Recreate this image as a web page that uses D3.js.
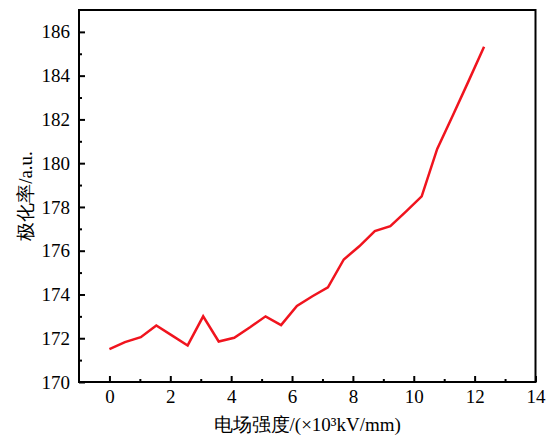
<!DOCTYPE html>
<html><head><meta charset="utf-8">
<script src="https://cdn.jsdelivr.net/npm/d3@7"></script>
<style>body{margin:0;background:#fff;} svg{display:block;} text{font-family:"Liberation Serif","Times New Roman","DejaVu Serif",serif;}</style>
</head><body>
<script>
const fieldX = [0,0.51,1.03,1.54,2.05,2.57,3.08,3.59,4.1,4.62,5.13,5.64,6.16,6.67,7.18,7.7,8.21,8.72,9.23,9.75,10.26,10.77,11.29,11.8,12.31];
const polarY = [171.5,171.82,172.05,172.58,172.13,171.67,173.0,171.85,172.02,172.5,173.0,172.6,173.48,173.92,174.33,175.6,176.2,176.9,177.12,177.8,178.48,180.65,182.2,183.75,185.32];
const xTicks = [0,2,4,6,8,10,12,14];
const yTicks = [170,172,174,176,178,180,182,184,186];
const xTitle = "电场强度/(×10³kV/mm)";
const yTitle = "极化率/a.u.";

const W = 553, H = 437;
const m = {left:79, right:17.5, top:10, bottom:55};
const svg = d3.select("body").append("svg").attr("width",W).attr("height",H);
const x = d3.scaleLinear().domain([-1,14]).range([m.left, W-m.right]);
const y = d3.scaleLinear().domain([170,187]).range([H-m.bottom, m.top]);
const font = "Liberation Serif, Times New Roman, DejaVu Serif, serif";

const xMinor = d3.range(0,14,1).filter(v=>!xTicks.includes(v));
const yMinor = d3.range(171,187,1).filter(v=>!yTicks.includes(v));

const gx = svg.append("g").attr("transform",`translate(0,${y(170)})`);
gx.call(d3.axisBottom(x).tickValues(xTicks).tickSize(-6).tickPadding(8).tickFormat(d3.format("d")));
gx.append("g").call(d3.axisBottom(x).tickValues(xMinor).tickSize(-3).tickFormat(""));
const gy = svg.append("g").attr("transform",`translate(${x(-1)},0)`);
gy.call(d3.axisLeft(y).tickValues(yTicks).tickSize(-6).tickPadding(9).tickFormat(d3.format("d")));
gy.append("g").call(d3.axisLeft(y).tickValues(yMinor).tickSize(-3).tickFormat(""));
svg.selectAll("g").attr("font-family",null);
svg.selectAll(".domain").remove();
svg.selectAll(".tick line").attr("stroke","#000").attr("stroke-width",2);
svg.selectAll(".tick text").attr("font-size",19).attr("fill","#000");

svg.append("rect").attr("x",x(-1)).attr("y",y(187)).attr("width",x(14)-x(-1)).attr("height",y(170)-y(187))
  .attr("fill","none").attr("stroke","#000").attr("stroke-width",2);

const line = d3.line().x((d,i)=>x(fieldX[i])).y(d=>y(d));
svg.append("path").datum(polarY).attr("d",line).attr("fill","none")
  .attr("stroke","#f0141e").attr("stroke-width",2.5).attr("stroke-linejoin","miter");

svg.append("text").attr("x",(x(-1)+x(14))/2).attr("y",431).attr("text-anchor","middle")
  .attr("font-size",19).text(xTitle);
svg.append("text").attr("transform",`translate(32,${(y(170)+y(187))/2}) rotate(-90)`).attr("text-anchor","middle")
  .attr("font-size",19).text(yTitle);
</script>
</body></html>
